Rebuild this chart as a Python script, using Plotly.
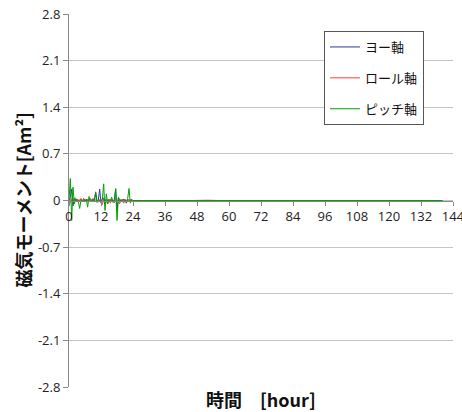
import plotly.graph_objects as go

hours = [0, 0.5, 1, 1.5, 2, 2.5, 3, 3.5, 4, 4.5, 5, 5.5, 6, 6.5, 7, 7.5, 8, 8.5, 9, 9.5,
         10, 10.5, 11, 11.5, 12, 12.5, 13, 13.5, 14, 14.5, 15, 15.5, 16, 16.5, 17, 17.5,
         18, 18.5, 19, 19.5, 20, 20.5, 21, 21.5, 22, 22.5, 23, 23.5, 24,
         28, 32, 36, 40, 44, 48, 52, 56, 60, 64, 68, 72, 76, 80, 84, 88, 92, 96, 100,
         104, 108, 112, 116, 120, 124, 128, 132, 136, 140, 144]

yaw = [0.0, 0.05, 0.17, -0.08, 0.03, 0.0, 0.02, -0.01, 0.01, 0.02, -0.01, 0.03, 0.0, 0.02,
       -0.01, 0.01, 0.02, 0.0, 0.03, 0.0, 0.12, -0.03, 0.01, 0.17, -0.04, 0.02, 0.04, -0.06,
       0.02, 0.0, 0.01, -0.02, 0.02, 0.0, -0.03, 0.17, -0.15, 0.03, 0.0, 0.01, -0.01, 0.02,
       0.0, -0.04, 0.02, 0.0, 0.01, 0.0, 0.0,
       0.005, 0.0, -0.005, 0.0, 0.005, 0.0, 0.0, -0.005, 0.0, 0.005, 0.0, 0.0, -0.005, 0.0,
       0.005, 0.0, 0.0, -0.005, 0.0, 0.0, 0.005, 0.0, -0.005, 0.0, 0.0, 0.005, 0.0, 0.0, 0.0]

roll = [0.0, -0.03, 0.02, 0.0, 0.03, 0.04, -0.02, 0.01, 0.0, 0.03, -0.01, 0.02, 0.0, -0.02,
        0.02, 0.0, 0.03, -0.01, 0.02, 0.0, 0.01, 0.0, -0.02, 0.01, 0.0, -0.06, 0.02, -0.03,
        0.0, -0.05, 0.01, -0.04, 0.02, -0.02, 0.0, 0.03, -0.02, 0.0, -0.05, 0.01, 0.0, -0.04,
        0.02, -0.02, 0.0, 0.01, -0.01, 0.0, 0.0,
        0.0, 0.004, 0.0, -0.004, 0.0, 0.0, 0.004, 0.0, 0.0, -0.004, 0.0, 0.004, 0.0, 0.0,
        -0.004, 0.0, 0.004, 0.0, 0.0, 0.0, -0.004, 0.0, 0.004, 0.0, 0.0, -0.004, 0.0, 0.0, 0.0]

pitch = [0.0, 0.33, -0.30, 0.20, -0.05, 0.02, 0.0, -0.02, -0.12, 0.01, -0.02, 0.01, -0.01,
         0.02, -0.10, 0.06, -0.02, 0.01, 0.0, -0.01, 0.13, -0.01, 0.01, 0.0, 0.0, 0.02,
         0.25, -0.15, 0.10, -0.05, 0.02, 0.0, 0.05, -0.03, 0.02, 0.18, -0.30, 0.05, 0.0,
         -0.02, 0.02, 0.0, 0.01, -0.02, 0.03, 0.18, -0.04, 0.02, 0.0,
         0.0, 0.0, 0.003, 0.0, 0.0, -0.003, 0.0, 0.0, 0.003, 0.0, 0.0, 0.0, -0.003, 0.0,
         0.0, 0.003, 0.0, 0.0, 0.0, -0.003, 0.0, 0.0, 0.003, 0.0, 0.0, 0.0, 0.0, 0.0, 0.0]

series_names = ["ヨー軸", "ロール軸", "ピッチ軸"]
series_colors = ["#2a3a9a", "#ff3b30", "#00a000"]

y_ticks = [2.8, 2.1, 1.4, 0.7, 0, -0.7, -1.4, -2.1, -2.8]
y_tick_labels = ["2.8", "2.1", "1.4", "0.7", "0", "-0.7", "-1.4", "-2.1", "-2.8"]
x_ticks = [0, 12, 24, 36, 48, 60, 72, 84, 96, 108, 120, 132, 144]

fig = go.Figure()
for i, (name, vals, col) in enumerate(zip(series_names, [yaw, roll, pitch], series_colors)):
    fig.add_trace(go.Scatter(x=hours, y=vals, mode="lines", name=name, legendgroup=f"g{i}",
                             line=dict(color=col, width=1)))

W, H = 462, 412
ml, mr, mt, mb = 69, 9, 14, 25
pw = W - ml - mr
ph = H - mt - mb

fig.update_layout(
    width=W, height=H,
    margin=dict(l=ml, r=mr, t=mt, b=mb, autoexpand=False),
    paper_bgcolor="white", plot_bgcolor="white",
    font=dict(family="Open Sans, Noto Sans CJK JP", size=12, color="#222"),
    showlegend=True,
    legend=dict(x=(324 - ml) / pw, y=(H - mb - 31) / ph, xanchor="left", yanchor="top",
                bgcolor="white", bordercolor="#555", borderwidth=1,
                font=dict(family="Noto Sans CJK JP", size=13, color="#111"),
                tracegroupgap=11, itemwidth=30,
                traceorder="grouped"),
    xaxis=dict(range=[0, 144], tickvals=x_ticks, showgrid=False, zeroline=False,
               anchor="free", position=0.5, showline=True, linecolor="#888", linewidth=1,
               ticks="outside", ticklen=4, tickcolor="#888", automargin=False,
               ticklabeloverflow="allow",
               tickfont=dict(size=13, family="Open Sans", color="#222")),
    yaxis=dict(range=[-2.8, 2.8], tickvals=y_ticks, ticktext=y_tick_labels,
               showgrid=True, gridcolor="#c4c4c4", gridwidth=1, zeroline=False,
               showline=True, linecolor="#888", linewidth=1, automargin=False,
               ticks="outside", ticklen=5, tickcolor="#888",
               tickfont=dict(size=13, family="Open Sans", color="#222")),
    annotations=[
        dict(text="<b>磁気モーメント[Am²]</b>", textangle=-90, xref="paper", yref="paper",
             x=(22 - ml) / pw, y=0.5, xanchor="center", yanchor="middle", showarrow=False,
             font=dict(family="Noto Sans CJK JP", size=18, color="#111")),
        dict(text="<b>時間　[hour]</b>", xref="paper", yref="paper",
             x=0.5, y=-(399 - (H - mb)) / ph, xanchor="center", yanchor="middle",
             showarrow=False, font=dict(family="Noto Sans CJK JP", size=18, color="#111")),
    ],
)

fig.write_html("out.html", post_script="document.body.style.margin='0';",
               config={"displayModeBar": False})
